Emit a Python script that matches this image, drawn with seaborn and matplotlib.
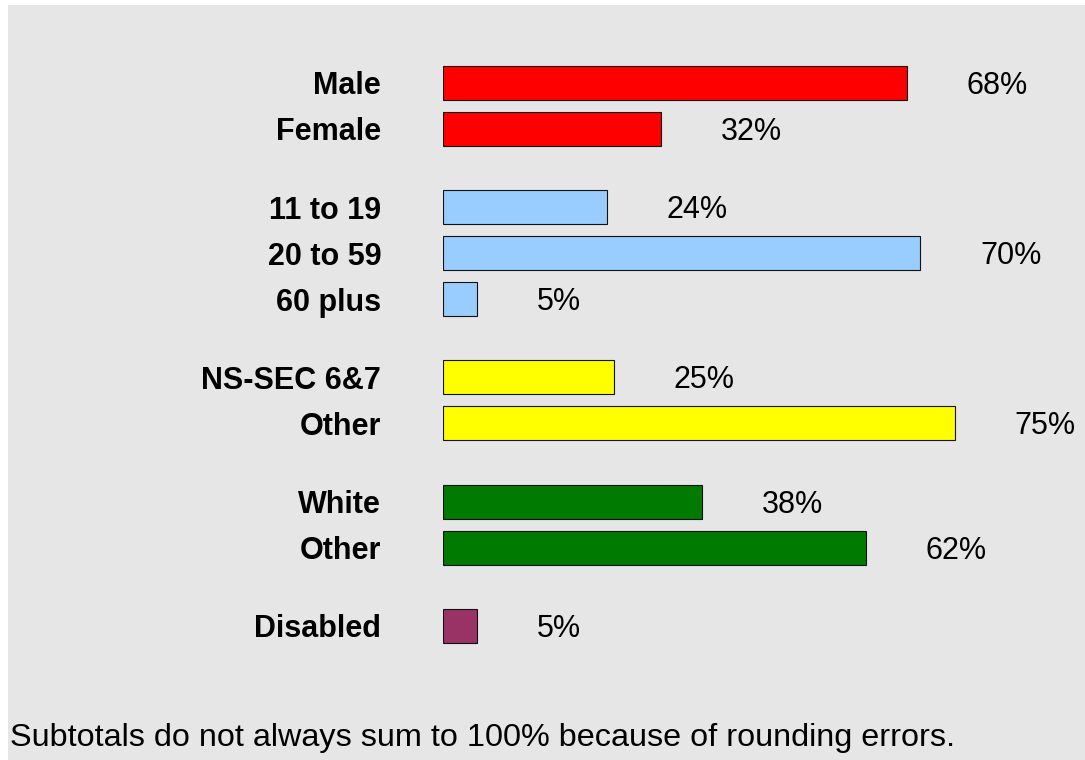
import matplotlib
matplotlib.use("Agg")
import matplotlib.pyplot as plt
from matplotlib.patches import Rectangle
import pandas as pd
import seaborn as sns

labels = ["Male", "Female", "11 to 19", "20 to 59", "60 plus",
          "NS-SEC 6&7", "Other", "White", "Other", "Disabled"]
values = [68, 32, 24, 70, 5, 25, 75, 38, 62, 5]
groups = ["sex", "sex", "age", "age", "age",
          "class", "class", "ethnicity", "ethnicity", "disability"]
group_colors = {"sex": "#ff0000", "age": "#99ccff", "class": "#ffff00",
                "ethnicity": "#007a00", "disability": "#993366"}
footnote = "Subtotals do not always sum to 100% because of rounding errors."

# row positions: one step inside a group, a wider step between groups
GROUP_GAP = 1.7
positions = []
pos = 0.0
for i, g in enumerate(groups):
    if i > 0:
        pos += 1.0 if g == groups[i - 1] else GROUP_GAP
    positions.append(pos)

df = pd.DataFrame({"label": labels, "value": values,
                   "group": groups, "pos": positions})

W, H = 1085, 760
fig = plt.figure(figsize=(W / 100, H / 100), dpi=100)
fig.patch.set_facecolor("white")
fig.patches.append(Rectangle((8 / W, 0), 1 - 8 / W, 1 - 5 / H,
                             transform=fig.transFigure, facecolor="#e6e6e6",
                             edgecolor="none", zorder=-10))

px_per_pct = 6.82
ax = fig.add_axes([443 / W, 1 - 645 / H, 642 / W, 585 / H])
ax.set_facecolor("none")
ax.set_zorder(5)

sns.barplot(data=df, x="value", y="pos", hue="group", palette=group_colors,
            orient="h", native_scale=True, dodge=False, width=0.74,
            saturation=1, edgecolor="#111111", linewidth=0.8,
            legend=False, ax=ax)

ax.set_xlim(0, 642 / px_per_pct)
ax.set_ylim((645 - 83) / 46, (60 - 83) / 46)
ax.set_yticks(positions)
ax.set_yticklabels(labels, fontsize=22, fontweight="bold", family="Liberation Sans")
ax.tick_params(axis="y", length=0, pad=44.5)
ax.set_xticks([])
ax.set_xlabel("")
ax.set_ylabel("")
for s in ax.spines.values():
    s.set_visible(False)

for v, p in zip(values, positions):
    ax.text(v + 60 / px_per_pct, p + 11 / 46, f"{v}%", va="baseline", ha="left",
            fontsize=22, family="Liberation Sans", clip_on=False)

fig.text(10 / W, 1 - 738 / H, footnote, va="center", ha="left",
         fontsize=23.3, family="Liberation Sans", zorder=6)

fig.savefig("out.png", dpi=100)
